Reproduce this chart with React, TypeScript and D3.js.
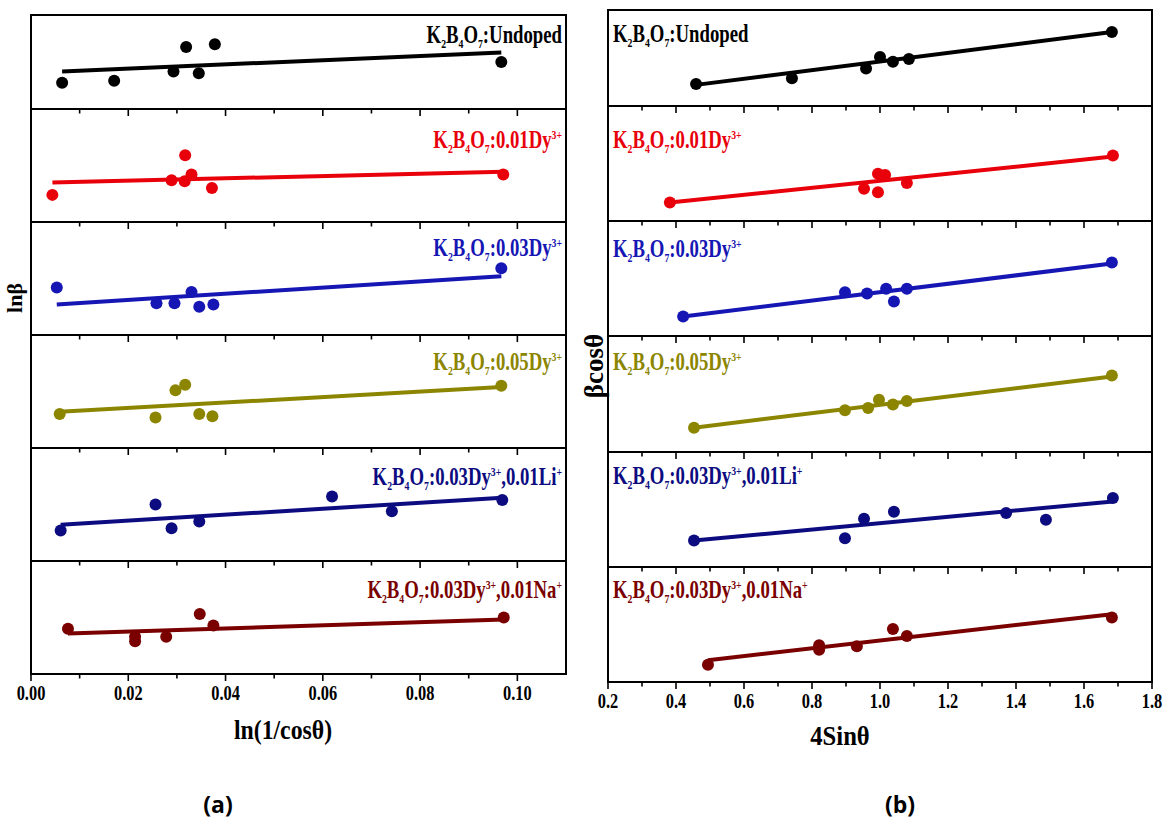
import React from "react";
import * as d3 from "d3";

const W = 1165;
const H = 820;

// Series colours, one per composition (top to bottom)
const sampleColors = ["#000000", "#e8000b", "#1616b4", "#8c8500", "#0c0c80", "#7a0000"];

type Seg = { t: string; k?: "sub" | "sup" };
const hostFormula: Seg[] = [
  { t: "K" }, { t: "2", k: "sub" }, { t: "B" }, { t: "4", k: "sub" }, { t: "O" }, { t: "7", k: "sub" }, { t: ":" },
];
const dopantLabels: Seg[][] = [
  [{ t: "Undoped" }],
  [{ t: "0.01Dy" }, { t: "3+", k: "sup" }],
  [{ t: "0.03Dy" }, { t: "3+", k: "sup" }],
  [{ t: "0.05Dy" }, { t: "3+", k: "sup" }],
  [{ t: "0.03Dy" }, { t: "3+", k: "sup" }, { t: ",0.01Li" }, { t: "+", k: "sup" }],
  [{ t: "0.03Dy" }, { t: "3+", k: "sup" }, { t: ",0.01Na" }, { t: "+", k: "sup" }],
];

// (a) ln(1/cosθ) vs lnβ (relative units inside each stacked layer)
const lnCosUndoped = [0.0064, 0.0171, 0.0293, 0.0319, 0.0345, 0.0378, 0.0967];
const lnBetaUndoped = [0.28, 0.3, 0.4, 0.66, 0.38, 0.69, 0.5];
const lnCosDy01 = [0.0044, 0.0289, 0.0317, 0.0316, 0.033, 0.0372, 0.0971];
const lnBetaDy01 = [0.24, 0.37, 0.59, 0.36, 0.42, 0.3, 0.42];
const lnCosDy03 = [0.0053, 0.0258, 0.0295, 0.033, 0.0346, 0.0375, 0.0967];
const lnBetaDy03 = [0.42, 0.28, 0.28, 0.38, 0.25, 0.27, 0.59];
const lnCosDy05 = [0.0059, 0.0256, 0.0297, 0.0317, 0.0346, 0.0373, 0.0967];
const lnBetaDy05 = [0.3, 0.27, 0.51, 0.56, 0.3, 0.28, 0.55];
const lnCosLi = [0.0061, 0.0256, 0.0289, 0.0346, 0.0619, 0.0742, 0.0969];
const lnBetaLi = [0.27, 0.5, 0.29, 0.35, 0.57, 0.44, 0.54];
const lnCosNa = [0.0076, 0.0214, 0.0214, 0.0278, 0.0347, 0.0375, 0.0972];
const lnBetaNa = [0.4, 0.33, 0.29, 0.33, 0.53, 0.43, 0.5];
const leftFitSlope = [2.215, 1.025, 2.735, 2.423, 2.643, 1.362];
const leftFitIntercept = [0.386, 0.3455, 0.2555, 0.3057, 0.3039, 0.349];

// (b) 4sinθ vs βcosθ (relative units inside each stacked layer)
const sinUndoped = [0.459, 0.741, 0.959, 1.0, 1.038, 1.085, 1.682];
const bcosUndoped = [0.23, 0.29, 0.39, 0.51, 0.46, 0.49, 0.77];
const sinDy01 = [0.382, 0.953, 0.994, 0.994, 1.015, 1.079, 1.685];
const bcosDy01 = [0.16, 0.28, 0.41, 0.25, 0.4, 0.33, 0.57];
const sinDy03 = [0.421, 0.897, 0.962, 1.018, 1.041, 1.079, 1.682];
const bcosDy03 = [0.17, 0.38, 0.37, 0.41, 0.3, 0.41, 0.64];
const sinDy05 = [0.453, 0.897, 0.965, 0.997, 1.038, 1.079, 1.682];
const bcosDy05 = [0.21, 0.36, 0.38, 0.45, 0.41, 0.44, 0.66];
const sinLi = [0.453, 0.897, 0.953, 1.041, 1.371, 1.488, 1.685];
const bcosLi = [0.23, 0.25, 0.42, 0.48, 0.47, 0.41, 0.6];
const sinNa = [0.494, 0.821, 0.821, 0.932, 1.038, 1.079, 1.682];
const bcosNa = [0.15, 0.32, 0.28, 0.31, 0.46, 0.4, 0.56];
const rightFitSlope = [0.4497, 0.307, 0.3648, 0.358, 0.276, 0.3367];
const rightFitIntercept = [0.0136, 0.0427, 0.0164, 0.0478, 0.105, 0.0237];

const leftTicks = ["0.00", "0.02", "0.04", "0.06", "0.08", "0.10"];
const rightTicks = ["0.2", "0.4", "0.6", "0.8", "1.0", "1.2", "1.4", "1.6", "1.8"];

const leftX = [lnCosUndoped, lnCosDy01, lnCosDy03, lnCosDy05, lnCosLi, lnCosNa];
const leftY = [lnBetaUndoped, lnBetaDy01, lnBetaDy03, lnBetaDy05, lnBetaLi, lnBetaNa];
const rightX = [sinUndoped, sinDy01, sinDy03, sinDy05, sinLi, sinNa];
const rightY = [bcosUndoped, bcosDy01, bcosDy03, bcosDy05, bcosLi, bcosNa];

const SERIF = "'Liberation Serif', 'Times New Roman', serif";

function FormulaText(props: { x: number; y: number; anchor: "start" | "end"; segs: Seg[]; color: string }) {
  const { x, y, anchor, segs, color } = props;
  let shift = 0;
  const spans = segs.map((s, i) => {
    const target = s.k === "sub" ? 5 : s.k === "sup" ? -9 : 0;
    const dy = target - shift;
    shift = target;
    return (
      <tspan key={i} dy={dy} fontSize={s.k ? 13 : 25}>
        {s.t}
      </tspan>
    );
  });
  return (
    <g transform={`translate(${x},${y}) scale(0.75,1)`}>
      <text textAnchor={anchor} fill={color} fontFamily={SERIF} fontWeight="bold" fontSize={25}>
        {spans}
      </text>
    </g>
  );
}

type PanelProps = {
  xScale: d3.ScaleLinear<number, number>;
  bounds: number[];
  xs: number[][];
  ys: number[][];
  slope: number[];
  intercept: number[];
  majors: number[];
  minors: number[];
  tickLabels: string[];
  labelX: number;
  labelY: number[];
  labelAnchor: "start" | "end";
};

function StackPanel(p: PanelProps) {
  const [x0, x1] = p.xScale.range();
  const top = p.bounds[0];
  const bottom = p.bounds[p.bounds.length - 1];
  return (
    <g>
      {p.xs.map((xv, i) => {
        const y = d3.scaleLinear().domain([0, 1]).range([p.bounds[i + 1], p.bounds[i]]);
        const lo = d3.min(xv) as number;
        const hi = d3.max(xv) as number;
        const fit = d3
          .line<number>()
          .x((v) => p.xScale(v))
          .y((v) => y(p.slope[i] * v + p.intercept[i]));
        return (
          <g key={i}>
            <path d={fit([lo, hi]) || ""} stroke={sampleColors[i]} strokeWidth={4} fill="none" />
            {xv.map((v, j) => (
              <circle key={j} cx={p.xScale(v)} cy={y(p.ys[i][j])} r={6} fill={sampleColors[i]} />
            ))}
            <FormulaText
              x={p.labelX}
              y={p.labelY[i]}
              anchor={p.labelAnchor}
              segs={[...hostFormula, ...dopantLabels[i]]}
              color={sampleColors[i]}
            />
          </g>
        );
      })}
      {/* frame and layer separators */}
      <rect x={x0} y={top} width={x1 - x0} height={bottom - top} fill="none" stroke="#000" strokeWidth={2} />
      {p.bounds.slice(1, -1).map((b, i) => (
        <line key={i} x1={x0} x2={x1} y1={b} y2={b} stroke="#000" strokeWidth={2} />
      ))}
      {/* ticks below each layer */}
      {p.bounds.slice(1).map((b, i) => (
        <g key={i}>
          {p.majors.map((t, j) => (
            <line key={"M" + j} x1={p.xScale(t)} x2={p.xScale(t)} y1={b} y2={b + 7} stroke="#000" strokeWidth={1.6} />
          ))}
          {p.minors.map((t, j) => (
            <line key={"m" + j} x1={p.xScale(t)} x2={p.xScale(t)} y1={b} y2={b + 4.5} stroke="#000" strokeWidth={1.6} />
          ))}
        </g>
      ))}
      {p.majors.map((t, j) => (
        <g key={j} transform={`translate(${p.xScale(t)},${bottom + 26}) scale(0.82,1)`}>
          <text textAnchor="middle" fontFamily={SERIF} fontWeight="bold" fontSize={20} fill="#000">
            {p.tickLabels[j]}
          </text>
        </g>
      ))}
    </g>
  );
}

export default function App() {
  const xLeft = d3.scaleLinear().domain([0, 0.11]).range([31, 566]);
  const xRight = d3.scaleLinear().domain([0.2, 1.8]).range([608, 1152]);
  const leftBounds = [15, 109, 222, 335, 448, 561, 674];
  const rightBounds = [10, 106, 221, 336, 452, 567, 682];
  const leftMajors = d3.range(0, 0.1001, 0.02);
  const leftMinors = d3.range(0.01, 0.1001, 0.02);
  const rightMajors = d3.range(0.2, 1.8001, 0.2);
  const rightMinors = d3.range(0.3, 1.7001, 0.2);

  return (
    <svg width={W} height={H} style={{ position: "absolute", left: 0, top: 0, background: "#fff" }}>
      <rect width={W} height={H} fill="#fff" />
      <StackPanel
        xScale={xLeft}
        bounds={leftBounds}
        xs={leftX}
        ys={leftY}
        slope={leftFitSlope}
        intercept={leftFitIntercept}
        majors={leftMajors}
        minors={leftMinors}
        tickLabels={leftTicks}
        labelX={562}
        labelY={[43, 148, 256, 370, 485, 598]}
        labelAnchor="end"
      />
      <StackPanel
        xScale={xRight}
        bounds={rightBounds}
        xs={rightX}
        ys={rightY}
        slope={rightFitSlope}
        intercept={rightFitIntercept}
        majors={rightMajors}
        minors={rightMinors}
        tickLabels={rightTicks}
        labelX={613}
        labelY={[42, 148, 257, 370, 484, 598]}
        labelAnchor="start"
      />
      {/* axis titles */}
      <g transform="translate(283,739) scale(0.88,1)">
        <text textAnchor="middle" fontFamily={SERIF} fontWeight="bold" fontSize={27}>ln(1/cosθ)</text>
      </g>
      <g transform="translate(840,745) scale(0.88,1)">
        <text textAnchor="middle" fontFamily={SERIF} fontWeight="bold" fontSize={28}>4Sinθ</text>
      </g>
      <text transform="translate(22,298) rotate(-90)" textAnchor="middle" fontFamily={SERIF} fontWeight="bold" fontSize={22}>lnβ</text>
      <text transform="translate(603,366) rotate(-90)" textAnchor="middle" fontFamily={SERIF} fontWeight="bold" fontSize={27}>βcosθ</text>
      {/* panel captions */}
      <text x={218} y={813} textAnchor="middle" fontFamily="'Open Sans', sans-serif" fontWeight="bold" fontSize={23}>(a)</text>
      <text x={900} y={813} textAnchor="middle" fontFamily="'Open Sans', sans-serif" fontWeight="bold" fontSize={23}>(b)</text>
    </svg>
  );
}
